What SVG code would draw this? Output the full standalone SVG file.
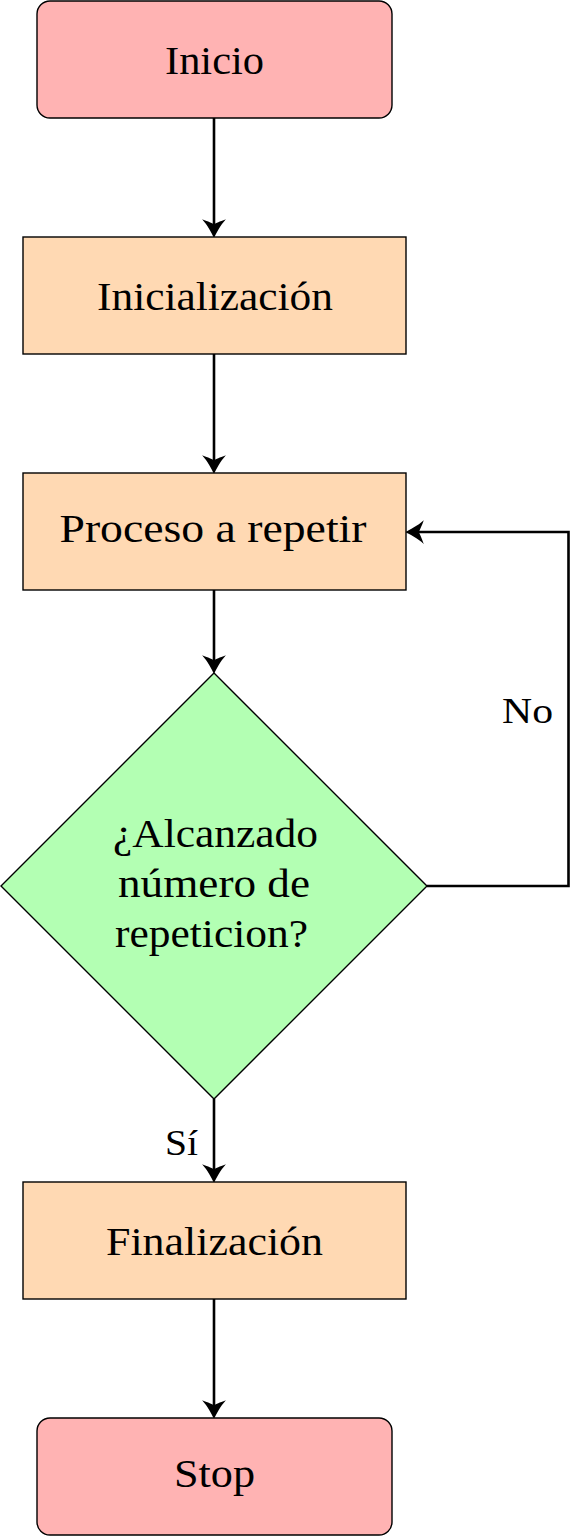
<svg xmlns="http://www.w3.org/2000/svg" width="571" height="1537" viewBox="0 0 571 1537">
<style>
.term{fill:#ffb3b3;stroke:#000;stroke-width:1.4}
.proc{fill:#ffd9b3;stroke:#000;stroke-width:1.4}
.dec{fill:#b3ffb3;stroke:#000;stroke-width:1.4}
.t{font-family:"Liberation Serif","DejaVu Serif",serif;font-size:41px;fill:#000;text-anchor:middle}
.lbl{font-family:"Liberation Serif","DejaVu Serif",serif;font-size:35px;fill:#000}
.c{fill:none;stroke:#000;stroke-width:2.6}
</style>
<defs>
<marker id="ah" markerUnits="userSpaceOnUse" markerWidth="30" markerHeight="30" viewBox="-20 -12 24 24" refX="-8" refY="0" orient="auto" overflow="visible">
<path d="M0,0 C-4,-2 -10,-5 -15,-9.5 C-13,-4 -12,-2 -11,0 C-12,2 -13,4 -15,9.5 C-10,5 -4,2 0,0 Z" fill="#000"/>
</marker>
</defs>
<g id="connectors">
<path class="c" d="M214,118 V228" marker-end="url(#ah)"/>
<path class="c" d="M214,354 V464" marker-end="url(#ah)"/>
<path class="c" d="M214,590 V664" marker-end="url(#ah)"/>
<path class="c" d="M214,1099 V1173" marker-end="url(#ah)"/>
<path class="c" d="M214,1299 V1409" marker-end="url(#ah)"/>
<path class="c" d="M427,886 H568.5 V532 H415" marker-end="url(#ah)"/>
<text class="lbl" x="502" y="723" textLength="51" lengthAdjust="spacingAndGlyphs">No</text>
<text class="lbl" x="165" y="1155" textLength="33" lengthAdjust="spacingAndGlyphs">Sí</text>
</g>
<g id="inicio">
<rect class="term" x="37" y="1" width="355" height="117" rx="13"/>
<text class="t" x="214.5" y="74" textLength="99" lengthAdjust="spacingAndGlyphs">Inicio</text>
</g>
<g id="inicializacion">
<rect class="proc" x="23" y="237" width="383" height="117"/>
<text class="t" x="215" y="310" textLength="236" lengthAdjust="spacingAndGlyphs">Inicialización</text>
</g>
<g id="proceso">
<rect class="proc" x="23" y="473" width="383" height="117"/>
<text class="t" x="213" y="542" textLength="307" lengthAdjust="spacingAndGlyphs">Proceso a repetir</text>
</g>
<g id="decision">
<polygon class="dec" points="214,673 427,886 214,1099 1,886"/>
<text class="t" x="215.5" y="847" textLength="205" lengthAdjust="spacingAndGlyphs">¿Alcanzado</text>
<text class="t" x="214" y="897" textLength="192" lengthAdjust="spacingAndGlyphs">número de</text>
<text class="t" x="211.5" y="947" textLength="193" lengthAdjust="spacingAndGlyphs">repeticion?</text>
</g>
<g id="finalizacion">
<rect class="proc" x="23" y="1182" width="383" height="117"/>
<text class="t" x="214.5" y="1255" textLength="217" lengthAdjust="spacingAndGlyphs">Finalización</text>
</g>
<g id="stop">
<rect class="term" x="37" y="1418" width="355" height="117" rx="13"/>
<text class="t" x="214.5" y="1487" textLength="81" lengthAdjust="spacingAndGlyphs">Stop</text>
</g>
</svg>
